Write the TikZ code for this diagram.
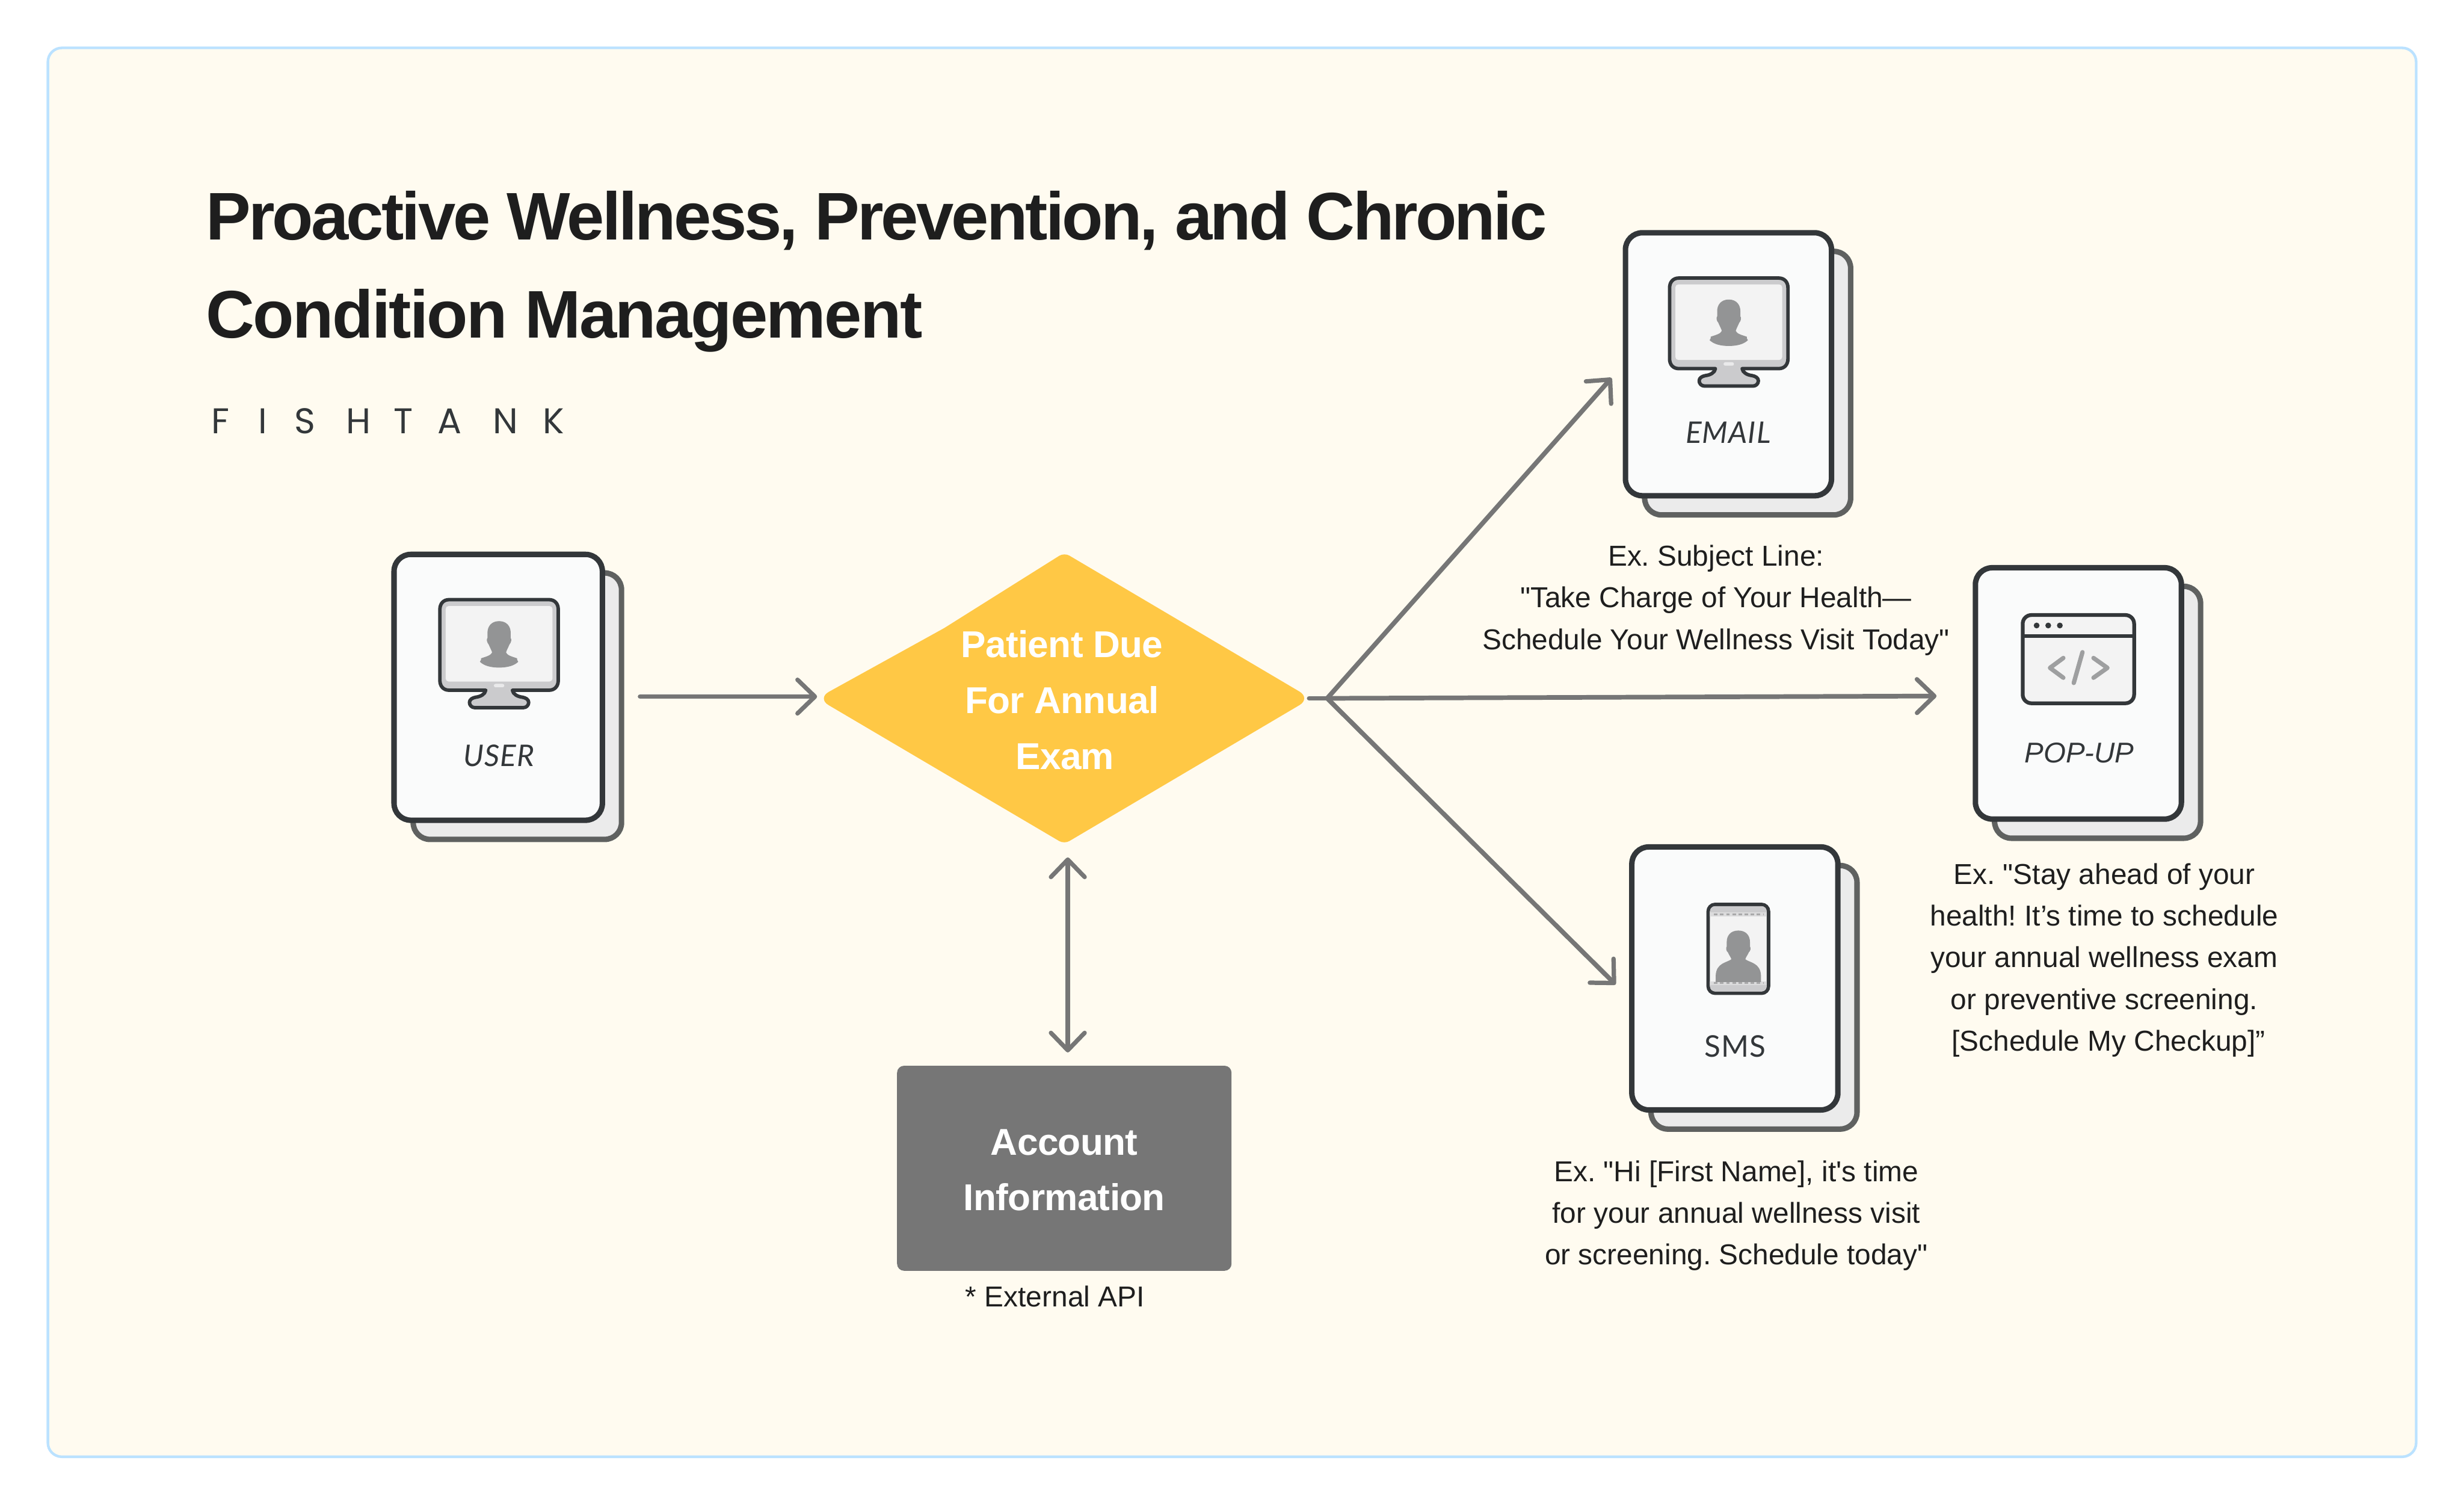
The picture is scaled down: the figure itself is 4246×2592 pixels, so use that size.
\documentclass[tikz,border=0pt]{standalone}
\usepackage{fontspec}
\setmainfont{Liberation Sans}[Ligatures=TeXOff]
\newfontfamily\labfont{Lato}[LetterSpace=2]
\newfontfamily\titlefont{Liberation Sans}[LetterSpace=-3.4,Ligatures=TeXOff]
\newfontfamily\titlefontb{Liberation Sans}[LetterSpace=-2.3,Ligatures=TeXOff]
\newfontfamily\boxfont{Liberation Sans}[LetterSpace=-1,Ligatures=TeXOff]
\newfontfamily\brandfont{Poppins}
\usetikzlibrary{arrows.meta}
\definecolor{panel}{HTML}{FFFBF0}
\definecolor{panelb}{HTML}{BBE2FF}
\definecolor{dk}{HTML}{33373A}
\definecolor{bk}{HTML}{5F6160}
\definecolor{bkf}{HTML}{EBEBEB}
\definecolor{frf}{HTML}{FAFBFB}
\definecolor{mon}{HTML}{CBCBCD}
\definecolor{scr}{HTML}{F3F3F3}
\definecolor{per}{HTML}{939495}
\definecolor{arr}{HTML}{767676}
\definecolor{gold}{HTML}{FFC845}
\definecolor{ink}{HTML}{1E1E1E}
\tikzset{
 x=0.01cm,y=-0.01cm,
 front/.style={draw=dk,fill=frf,line width=0.094cm,rounded corners=0.29cm,inner sep=0pt},
 backc/.style={draw=bk,fill=bkf,line width=0.094cm,rounded corners=0.29cm,inner sep=0pt},
 flow/.style={draw=arr,line width=0.08cm,line cap=round,line join=round},
 barb/.tip={Straight Barb[length=0.3cm,width=0.58cm,line width=0.075cm,round]},
 tip/.style={-barb},
 tips/.style={barb-barb},
 cardlab/.style={text=dk,font=\labfont\fontsize{14.6pt}{18pt}\selectfont,inner sep=0pt},
 note/.style={text=ink,align=center,font=\fontsize{14.1pt}{20.4pt}\selectfont\frenchspacing,inner sep=0pt},
 boxtxt/.style={text=white,align=center,font=\boxfont\bfseries\fontsize{18.3pt}{27.3pt}\selectfont,inner sep=0pt},
 titletxt/.style={anchor=base west,inner sep=0pt,text=ink,font=\bfseries\fontsize{33pt}{40pt}\selectfont},
}
\newcommand{\cardpair}[5]{% name, left, top, right, bottom (outer edge of the front card)
 \node[backc,minimum width={(#4-#2-10)*0.01cm},minimum height={(#5-#3-9)*0.01cm}] (#1back) at ({(#2+#4)/2+33},{(#3+#5)/2+32.5}) {};
 \node[front,minimum width={(#4-#2-10)*0.01cm},minimum height={(#5-#3-10)*0.01cm}] (#1) at ({(#2+#4)/2},{(#3+#5)/2}) {};
}
\newcommand{\personmon}{%
 \fill[per] (0,-45) .. controls (-14,-45) and (-20,-35) .. (-20,-25)
 -- (-20,-16) .. controls (-22,-14) and (-21,-8) .. (-18,-5)
 .. controls (-16,0) and (-13,5) .. (-12,9)
 .. controls (-14,14) and (-22,16) .. (-31,19)
 .. controls (-31,21) and (-31,23) .. (-33,25)
 .. controls (-26,32) and (-14,35) .. (0,35) .. controls (14,35) and (26,32) .. (33,25)
 .. controls (31,23) and (31,21) .. (31,19)
 .. controls (22,16) and (14,14) .. (12,9)
 .. controls (13,5) and (16,0) .. (18,-5)
 .. controls (21,-8) and (22,-14) .. (20,-16)
 -- (20,-25) .. controls (20,-35) and (14,-45) .. (0,-45) -- cycle;
}
\newcommand{\monitor}[2]{%
 \begin{scope}[shift={(#1,#2)}]
  \draw[dk,fill=mon,line width=0.06cm,line join=round]
   (-86,3) -- (86,3) .. controls (96,3) and (102,10) .. (102,20)
   -- (102,142) .. controls (102,152) and (96,159) .. (86,159)
   -- (23,159) .. controls (24,166) and (32,170) .. (40,171)
   .. controls (46,172) and (51,175) .. (51,180)
   .. controls (51,185) and (47,189) .. (42,189) -- (-42,189)
   .. controls (-47,189) and (-51,185) .. (-51,180)
   .. controls (-51,175) and (-46,172) .. (-40,171)
   .. controls (-32,170) and (-24,166) .. (-23,159)
   -- (-86,159) .. controls (-96,159) and (-102,152) .. (-102,142)
   -- (-102,20) .. controls (-102,10) and (-96,3) .. (-86,3) -- cycle;
  \fill[scr,rounded corners=0.05cm] (-92,14) rectangle (92,144);
  \fill[white!60!mon,rounded corners=0.03cm] (-9,148) rectangle (9,154);
  \begin{scope}[shift={(0,85)}] \personmon \end{scope}
 \end{scope}
}
\begin{document}
\begin{tikzpicture}
\useasboundingbox (0,0) rectangle (4246,2592);
\fill[white] (0,0) rectangle (4246,2592);
\path[fill=panel,draw=panelb,line width=0.045cm,rounded corners=0.24cm] (82.5,82.5) rectangle (4163.5,2509.5);
% title
\node[titletxt,font=\titlefont\bfseries\fontsize{33pt}{40pt}\selectfont] (t1) at (354,413) {Proactive Wellness, Prevention, and Chronic};
\node[titletxt,font=\titlefontb\bfseries\fontsize{33pt}{40pt}\selectfont] (t2) at (354,582) {Condition Management};
\node[anchor=base west,inner sep=0pt,text=dk,font=\brandfont\fontsize{17.5pt}{20pt}\selectfont] (brand) at (364,747) {F\hspace{0.50cm}I\hspace{0.47cm}S\hspace{0.53cm}H\hspace{0.39cm}T\hspace{0.42cm}A\hspace{0.54cm}N\hspace{0.43cm}K};
% cards
\cardpair{user}{674}{950}{1043}{1418}
\cardpair{email}{2796}{396}{3161}{859}
\cardpair{popup}{3399}{973}{3764}{1416}
\cardpair{sms}{2807}{1454}{3172}{1917}
\monitor{860}{1030}
\monitor{2979}{476}
\node[cardlab,font=\labfont\itshape\fontsize{14.6pt}{18pt}\selectfont] (userl) at (860,1302) {USER};
\node[cardlab,font=\labfont\itshape\fontsize{14.6pt}{18pt}\selectfont] (emaill) at (2978,745) {EMAIL};
\node[cardlab,font=\itshape\fontsize{14pt}{18pt}\selectfont] (popl) at (3583,1297) {POP-UP};
\node[cardlab] (smsl) at (2990,1802) {SMS};
% pop-up icon
\begin{scope}[shift={(3581.5,1135.5)}]
 \path[draw=dk,fill=scr,line width=0.065cm,rounded corners=0.15cm] (-96,-76) rectangle (96,76);
 \draw[dk,line width=0.065cm] (-96,-40) -- (96,-40);
 \fill[dk] (-72,-58) circle (5) (-52,-58) circle (5) (-32,-58) circle (5);
 \draw[per!90!white,line width=0.075cm,line cap=round,line join=round]
  (-26,-2) -- (-49,15) -- (-26,32) (7,-12) -- (-8,41) (26,-2) -- (50,15) -- (26,32);
\end{scope}
% sms icon
\begin{scope}[shift={(2995.5,1634.5)}]
 \path[draw=dk,fill=scr,line width=0.06cm,rounded corners=0.12cm] (-52,-76.5) rectangle (52,76.5);
 \begin{scope}
  \clip[rounded corners=0.09cm] (-49,-73.5) rectangle (49,73.5);
  \fill[mon] (-49,-74) rectangle (49,-63);
  \fill[mon!60!scr] (-49,-63) rectangle (49,-56);
  \fill[mon!60!scr] (-49,56) rectangle (49,62);
  \fill[mon] (-49,62) rectangle (49,74);
 \end{scope}
 \begin{scope}[shift={(0,0)}]
  \fill[per] (0,-31.5) .. controls (-14,-31.5) and (-20,-22) .. (-20,-12)
  -- (-20,-4) .. controls (-22,-2) and (-21,4) .. (-18,6)
  .. controls (-16,11) and (-13,14) .. (-12,18)
  .. controls (-20,24) and (-38,24) .. (-39,46) -- (-39,57) -- (39,57) -- (39,46)
  .. controls (38,24) and (20,24) .. (12,18)
  .. controls (13,14) and (16,11) .. (18,6)
  .. controls (21,4) and (22,-2) .. (20,-4)
  -- (20,-12) .. controls (20,-22) and (14,-31.5) .. (0,-31.5) -- cycle;
 \end{scope}
 \draw[per!80!white,line width=0.03cm,dash pattern=on 1.7pt off 1.3pt] (-42,-59.5) -- (44,-59.5);
 \draw[per!80!white,line width=0.03cm,dash pattern=on 1.7pt off 1.3pt] (-42,58.5) -- (44,58.5);
\end{scope}
% diamond
\path[fill=gold] (1627,1082) [rounded corners=0.23cm] -- (1408,1203) [rounded corners=0.1cm] -- (1834,1454) [rounded corners=0.23cm] -- (2259,1203) [rounded corners=0.1cm] -- (1834,952) [sharp corners] -- cycle;
\node[inner sep=0pt,minimum width=8.25cm,minimum height=4.95cm] (dia) at (1834,1203) {};
\node[boxtxt] (diat) at (1830,1206) {Patient Due\\For Annual\hspace{0.27cm}\\\hspace{0.1cm}Exam};
% account
\node[fill=arr,rounded corners=0.12cm,minimum width=5.76cm,minimum height=3.53cm,inner sep=0pt] (acct) at (1834,2012.5) {};
\node[boxtxt] (acctt) at (1834,2015.5) {Account\hspace{0.14cm}\\Information};
\node[note,anchor=base] (api) at (1818,2251) {* External API};
% notes
\node[note] (n1) at (2957,1034) {Ex. Subject Line:\\"Take Charge of Your Health—\\Schedule Your Wellness Visit Today"};
\node[note] (n2) at (3626,1654) {Ex. "Stay ahead of your\\health! It’s time to schedule\\your annual wellness exam\\or preventive screening.\\\hspace{0.3em}[Schedule My Checkup]”};
\node[note] (n3) at (2992,2094) {Ex. "Hi [First Name], it's time\\for your annual wellness visit\\or screening. Schedule today"};
% connectors
\coordinate (ua) at (1103,1200);
\coordinate (ub) at (1408,1200);
\draw[flow,tip] (ua) -- (ub);
\coordinate (hub) at (2287,1203);
\coordinate (hs) at (2256,1203);
\coordinate (ea) at (2777,651);
\coordinate (pa) at (3337,1199);
\coordinate (sa) at (2784,1696);
\draw[flow] (hs) -- (hub);
\draw[flow,tip] (hub) -- (ea);
\draw[flow,tip] (hub) -- (pa);
\draw[flow,tip] (hub) -- (sa);
\coordinate (va) at (1840,1477);
\coordinate (vb) at (1840,1813);
\draw[flow,tips] (va) -- (vb);
\end{tikzpicture}
\end{document}
